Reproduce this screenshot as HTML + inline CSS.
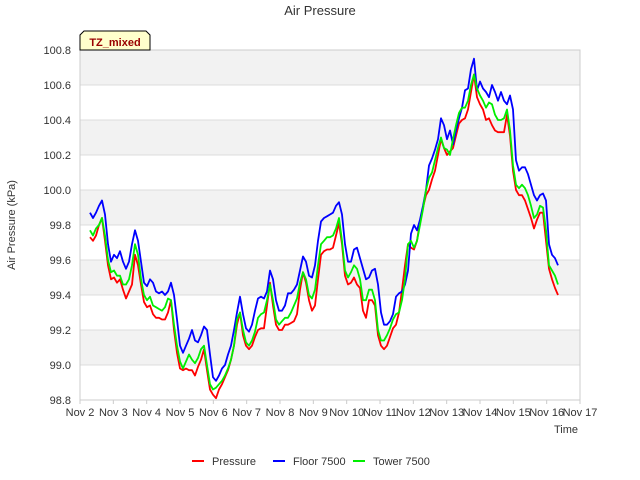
<!DOCTYPE html>
<html><head><meta charset="utf-8"><style>
body{margin:0;background:#fff;}
svg{display:block;font-family:"Liberation Sans",sans-serif;}
</style></head><body>
<svg id="chart" width="640" height="480" viewBox="0 0 640 480">
<text x="320" y="15" text-anchor="middle" font-size="13" fill="#333">Air Pressure</text>
<g id="bands"></g>
<g id="grid"></g>
<rect x="80" y="50" width="500" height="350" fill="none" stroke="#ccc"/>
<g id="yticks"></g>
<g id="xticks"></g>
<g id="series"></g>
<text x="15" y="225" transform="rotate(-90 15 225)" text-anchor="middle" font-size="11" fill="#333">Air Pressure (kPa)</text>
<text x="566" y="433" text-anchor="middle" font-size="11" fill="#333">Time</text>
<g>
<path d="M80 50 L80 35 L84 31 L146 31 L150 35 L150 50 Z" fill="#ffffcc" stroke="#000"/>
<text x="115" y="46" text-anchor="middle" font-size="11" font-weight="bold" fill="#990000">TZ_mixed</text>
</g>
<g>
<g><line x1="192" y1="461" x2="204" y2="461" stroke="#ff0000" stroke-width="2"/><text x="212" y="465" font-size="11" fill="#333">Pressure</text></g>
<g><line x1="273" y1="461" x2="285" y2="461" stroke="#0000ff" stroke-width="2"/><text x="293" y="465" font-size="11" fill="#333">Floor 7500</text></g>
<g><line x1="353" y1="461" x2="365" y2="461" stroke="#00ee00" stroke-width="2"/><text x="373" y="465" font-size="11" fill="#333">Tower 7500</text></g>
</g>
</svg>
<script>
const xTickLabels=["Nov 2","Nov 3","Nov 4","Nov 5","Nov 6","Nov 7","Nov 8","Nov 9","Nov 10","Nov 11","Nov 12","Nov 13","Nov 14","Nov 15","Nov 16","Nov 17"];
const yTickValues=[98.8,99.0,99.2,99.4,99.6,99.8,100.0,100.2,100.4,100.6,100.8];
const startDay=0.3;
const stepDay=0.09;
const floorValues=[99.87,99.84,99.87,99.91,99.94,99.86,99.69,99.59,99.63,99.61,99.65,99.59,99.55,99.59,99.69,99.77,99.71,99.59,99.47,99.45,99.49,99.47,99.42,99.41,99.42,99.40,99.42,99.47,99.40,99.26,99.11,99.07,99.11,99.15,99.20,99.14,99.13,99.17,99.22,99.20,99.06,98.93,98.91,98.94,98.98,99.00,99.06,99.11,99.20,99.30,99.39,99.29,99.21,99.19,99.23,99.31,99.38,99.39,99.38,99.42,99.54,99.49,99.37,99.31,99.31,99.34,99.41,99.41,99.43,99.46,99.54,99.62,99.59,99.51,99.50,99.57,99.71,99.82,99.84,99.85,99.86,99.87,99.91,99.93,99.86,99.69,99.59,99.59,99.66,99.67,99.61,99.55,99.49,99.50,99.54,99.55,99.46,99.30,99.23,99.23,99.25,99.29,99.39,99.41,99.42,99.46,99.54,99.75,99.80,99.77,99.83,99.91,100.00,100.14,100.18,100.23,100.29,100.41,100.37,100.29,100.34,100.26,100.34,100.41,100.47,100.57,100.58,100.69,100.75,100.57,100.62,100.58,100.56,100.53,100.60,100.56,100.51,100.56,100.51,100.49,100.54,100.46,100.17,100.11,100.13,100.13,100.09,100.03,99.97,99.94,99.97,99.98,99.94,99.69,99.63,99.61,99.57];
const towerValues=[99.77,99.74,99.78,99.80,99.84,99.74,99.60,99.53,99.54,99.51,99.51,99.46,99.46,99.49,99.57,99.69,99.63,99.49,99.40,99.37,99.39,99.34,99.33,99.32,99.31,99.33,99.38,99.37,99.23,99.11,99.02,98.98,99.02,99.06,99.03,99.01,99.04,99.09,99.11,99.00,98.89,98.86,98.87,98.89,98.91,98.94,98.98,99.03,99.11,99.26,99.30,99.20,99.13,99.11,99.14,99.19,99.27,99.29,99.30,99.37,99.46,99.37,99.26,99.23,99.25,99.27,99.27,99.30,99.34,99.38,99.47,99.53,99.49,99.40,99.38,99.43,99.57,99.69,99.71,99.73,99.73,99.74,99.78,99.84,99.71,99.54,99.50,99.53,99.57,99.55,99.49,99.37,99.37,99.43,99.43,99.37,99.20,99.14,99.14,99.17,99.21,99.26,99.29,99.30,99.37,99.49,99.69,99.71,99.67,99.71,99.80,99.89,100.00,100.07,100.10,100.17,100.24,100.30,100.24,100.23,100.20,100.29,100.37,100.44,100.47,100.47,100.51,100.60,100.66,100.58,100.54,100.51,100.47,100.50,100.49,100.43,100.40,100.40,100.41,100.46,100.34,100.14,100.03,100.01,100.03,100.01,99.97,99.91,99.84,99.86,99.91,99.90,99.77,99.57,99.54,99.51,99.46];
const pressureValues=[99.73,99.71,99.74,99.80,99.84,99.71,99.57,99.49,99.50,99.47,99.49,99.43,99.38,99.42,99.46,99.63,99.57,99.46,99.36,99.33,99.34,99.29,99.27,99.27,99.26,99.26,99.30,99.37,99.20,99.07,98.98,98.97,98.98,98.97,98.97,98.94,98.99,99.03,99.09,98.97,98.86,98.83,98.81,98.86,98.89,98.93,98.97,99.03,99.11,99.23,99.30,99.17,99.11,99.09,99.11,99.16,99.20,99.21,99.21,99.34,99.47,99.34,99.23,99.20,99.20,99.23,99.23,99.24,99.25,99.29,99.43,99.53,99.47,99.37,99.31,99.34,99.49,99.63,99.65,99.66,99.66,99.67,99.74,99.81,99.69,99.51,99.46,99.47,99.50,99.46,99.44,99.31,99.27,99.37,99.37,99.34,99.17,99.11,99.09,99.11,99.16,99.21,99.23,99.30,99.43,99.57,99.69,99.67,99.66,99.71,99.82,99.90,99.97,100.00,100.06,100.11,100.20,100.29,100.24,100.20,100.22,100.24,100.31,100.38,100.40,100.41,100.46,100.56,100.66,100.53,100.49,100.46,100.40,100.41,100.37,100.34,100.33,100.33,100.33,100.43,100.31,100.11,100.00,99.97,99.97,99.94,99.89,99.84,99.78,99.83,99.87,99.87,99.71,99.55,99.49,99.44,99.40];

const NS="http://www.w3.org/2000/svg";
const L=80,R=580,T=50,B=400,yMin=98.8,yMax=100.8,dMax=15;
function xs(d){return L+(d/dMax)*(R-L);}
function ys(v){return B-(v-yMin)/(yMax-yMin)*(B-T);}
function mk(tag,attrs,parent){const e=document.createElementNS(NS,tag);for(const k in attrs)e.setAttribute(k,attrs[k]);parent.appendChild(e);return e;}
const bands=document.getElementById('bands'),grid=document.getElementById('grid'),yt=document.getElementById('yticks'),xt=document.getElementById('xticks'),ser=document.getElementById('series');
for(let i=0;i<yTickValues.length-1;i++){
  const y1=ys(yTickValues[i+1]),y0=ys(yTickValues[i]);
  const r=mk('rect',{x:L,y:y1,width:R-L,height:y0-y1,fill:(i%2===1)?'#f2f2f2':'#ffffff'},bands);
  
  
}
yTickValues.forEach(v=>{
  const y=ys(v);
  const g=mk('line',{x1:L,x2:R,y1:y,y2:y,stroke:'#dcdcdc'},grid);
  
  
  const t=mk('text',{x:L-9,y:y+4,'text-anchor':'end','font-size':'11',fill:'#333'},yt);
  t.textContent=v.toFixed(1);
  
  
});
xTickLabels.forEach((lab,i)=>{
  const x=xs(i);
  const tk=mk('line',{x1:x,x2:x,y1:B,y2:B+4,stroke:'#ccc'},xt);
  
  
  const t=mk('text',{x:x,y:B+16,'text-anchor':'middle','font-size':'11',fill:'#333'},xt);
  t.textContent=lab;
  
  
});
function drawSeries(vals,color,name){
  const pts=vals.map((v,i)=>xs(startDay+i*stepDay).toFixed(1)+','+ys(v).toFixed(1)).join(' ');
  const p=mk('polyline',{points:pts,fill:'none',stroke:color,'stroke-width':'1.8','stroke-linejoin':'round'},ser);
  
  
}
drawSeries(pressureValues,'#ff0000','pressure-line');
drawSeries(floorValues,'#0000ff','floor-7500-line');
drawSeries(towerValues,'#00ee00','tower-7500-line');
</script>
</body></html>
